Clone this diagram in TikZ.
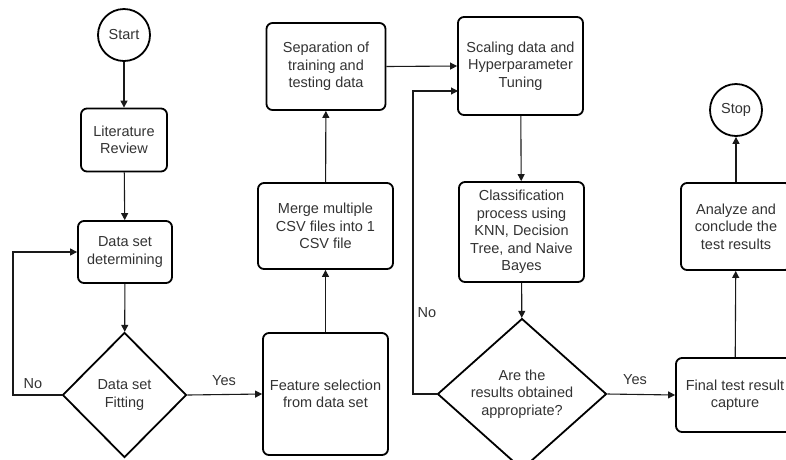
\documentclass[tikz,border=0pt]{standalone}
\usepackage{fontspec}
\setmainfont{Liberation Sans}
\usetikzlibrary{shapes.geometric,arrows.meta}
\begin{document}
\begin{tikzpicture}[x=1pt,y=-1pt,
  every node/.style={text=black!80,font=\fontsize{14.5}{17.5}\selectfont,align=center,inner sep=1pt},
  proc/.style={draw=black,line width=1.8pt,rounded corners=6pt},
  term/.style={draw=black,line width=1.8pt,circle,minimum size=52pt},
  dec/.style={draw=black,line width=1.8pt,diamond,inner sep=0pt},
  arr/.style={draw=black!90,line width=1.1pt,-{Triangle[length=7pt,width=7pt]}},
  lbl/.style={font=\fontsize{14.5}{17.5}\selectfont}]
\clip (0,0) rectangle (786,459);
\fill[white] (0,0) rectangle (786,459);
% nodes
\node[term] (start) at (124,35) {Start};
\node[proc,minimum width=86pt,minimum height=63pt] (lit) at (124,140) {Literature\\Review};
\node[proc,minimum width=94pt,minimum height=62pt] (det) at (125,252) {Data set\\determining};
\node[dec,minimum width=124pt,minimum height=125pt] (fit) at (124.5,395) {Data set\\Fitting};
\node[proc,minimum width=125pt,minimum height=122pt] (feat) at (325.5,394) {Feature selection\\from data set};
\node[proc,minimum width=135pt,minimum height=86pt] (merge) at (325.5,226) {Merge multiple\\CSV files into 1\\CSV file};
\node[proc,minimum width=119pt,minimum height=87pt] (sep) at (326,66.5) {Separation of\\training and\\testing data};
\node[proc,minimum width=125pt,minimum height=98pt] (scale) at (520.5,66) {Scaling data and\\Hyperparameter\\Tuning};
\node[proc,minimum width=125pt,minimum height=100pt] (class) at (521.5,232) {Classification\\process using\\KNN, Decision\\Tree, and Naive\\Bayes};
\node[dec,minimum width=169pt,minimum height=134pt] (app) at (522,394) {Are the\\results obtained\\appropriate?};
\node[proc,minimum width=118pt,minimum height=74pt] (final) at (735,395) {Final test result\\capture};
\node[proc,minimum width=110pt,minimum height=87pt] (anal) at (736,226.5) {Analyze and\\conclude the\\test results};
\node[term] (stop) at (736,110) {Stop};
% labels
\node[lbl] (no1) at (33,384) {No};
\node[lbl] (yes1) at (224,381) {Yes};
\node[lbl] (no2) at (427,313) {No};
\node[lbl] (yes2) at (635,380) {Yes};
% helper coordinates
\coordinate (l1) at (13,395);
\coordinate (l2) at (413,394);
\coordinate (s2) at (458,91);
% connectors
\draw[arr] (start) -- (lit);
\draw[arr] (lit) -- (det);
\draw[arr] (det) -- (fit);
\draw[arr] (fit.west) -- (l1) |- (det.west);
\draw[arr] (fit.east) -- (feat.west);
\draw[arr] (feat) -- (merge);
\draw[arr] (merge) -- (sep);
\draw[arr] (sep.east) -- (scale.west);
\draw[arr] (app.west) -- (l2) |- (s2);
\draw[arr] (scale) -- (class);
\draw[arr] (class) -- (app);
\draw[arr] (app.east) -- (final.west);
\draw[arr] (final) -- (anal);
\draw[arr] (anal) -- (stop);
\end{tikzpicture}
\end{document}
